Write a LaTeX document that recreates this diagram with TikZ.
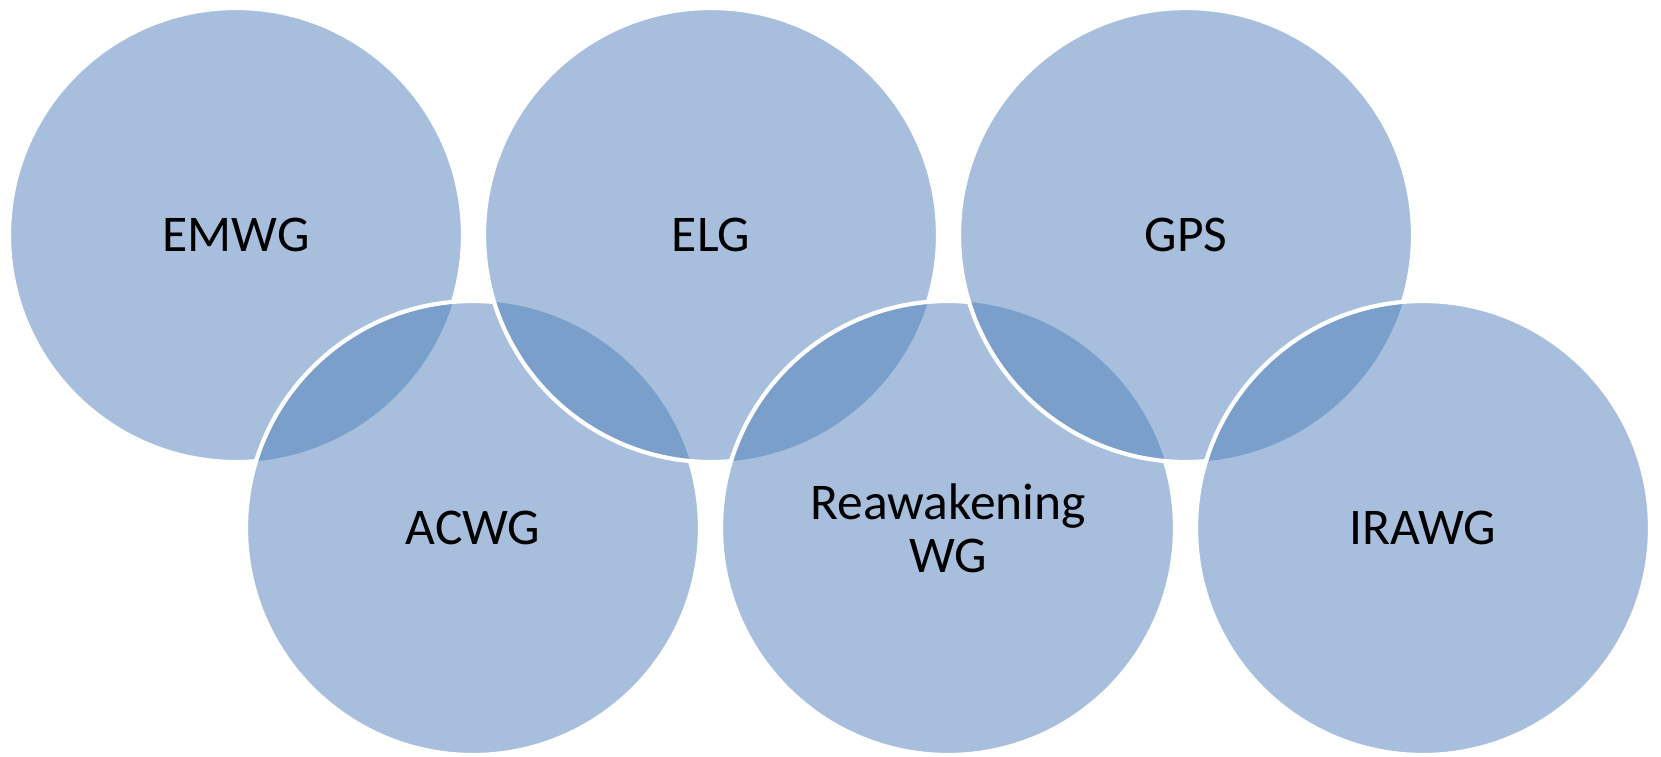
\documentclass[tikz,border=0pt]{standalone}
\usepackage{fontspec}
\setmainfont{Carlito}
\definecolor{lightc}{HTML}{A7BFDD}
\definecolor{darkc}{HTML}{7A9FCB}
\tikzset{
  disk/.style={fill=lightc},
  rim/.style={draw=white, line width=4.2pt},
  lens/.style={fill=darkc},
  lbl/.style={font=\fontsize{51.5}{53}\selectfont, text=black, align=center, inner sep=0pt}
}
\newcommand{\R}{227pt}
\newcommand{\circstep}[2]{%
  \fill[disk] (#1) circle (\R);
  \begin{scope}\clip (#1) circle (\R); \fill[lens] (#2) circle (\R);\end{scope}
  \draw[rim] (#1) circle (\R);
}
\begin{document}
\begin{tikzpicture}[x=1pt,y=-1pt]
\useasboundingbox (0,0) rectangle (1661,756);
\coordinate (cEMWG) at (236,235);
\coordinate (cELG) at (711,235);
\coordinate (cGPS) at (1186,235);
\coordinate (cACWG) at (473,528);
\coordinate (cREAW) at (948,528);
\coordinate (cIRAWG) at (1423,528);
% order: EMWG, ACWG, ELG, Reawakening, GPS, IRAWG
\fill[disk] (cEMWG) circle (\R);
\draw[rim] (cEMWG) circle (\R);
\circstep{cACWG}{cEMWG}
\circstep{cELG}{cACWG}
\circstep{cREAW}{cELG}
\circstep{cGPS}{cREAW}
\circstep{cIRAWG}{cGPS}
\node[lbl] (emwg) at (cEMWG) {EMWG};
\node[lbl] (elg) at (cELG) {ELG};
\node[lbl] (gps) at (cGPS) {GPS};
\node[lbl] (acwg) at (cACWG) {ACWG};
\node[lbl] (reaw) at (cREAW) {Reawakening\\WG};
\node[lbl] (irawg) at (cIRAWG) {IRAWG};
\end{tikzpicture}
\end{document}
